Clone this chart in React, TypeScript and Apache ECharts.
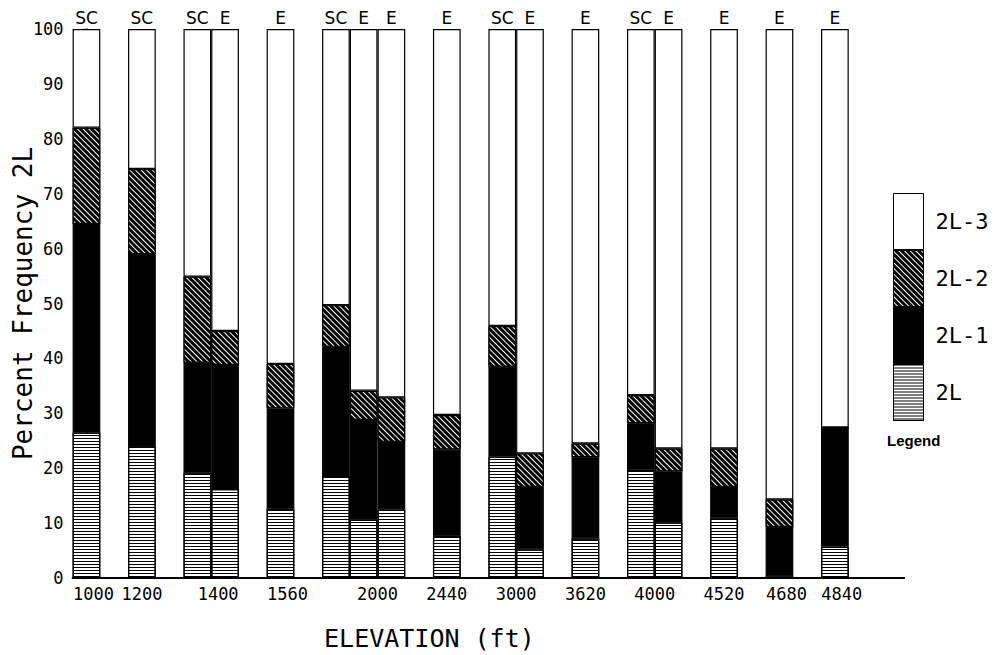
import React, { useEffect, useRef } from "react";
import * as echarts from "echarts";

// ---------- data ----------
const seriesNames = ["2L", "2L-1", "2L-2", "2L-3"];
const legendOrder = ["2L-3", "2L-2", "2L-1", "2L"];
const barElevation = ["1000", "1200", "1400", "1400", "1560", "2000", "2000", "2000", "2440", "3000", "3000", "3620", "4000", "4000", "4520", "4680", "4840"];
const barSite = ["SC", "SC", "SC", "E", "E", "SC", "E", "E", "E", "SC", "E", "E", "SC", "E", "E", "E", "E"];
const pct2L = [26.5, 24, 19.2, 16.2, 12.6, 18.6, 10.6, 12.5, 7.7, 22.1, 5.2, 7.2, 19.7, 10.1, 11, 0.3, 5.7];
const pct2L1 = [38, 35, 20, 22.6, 18.3, 23.5, 18.2, 12.3, 15.7, 16.4, 11.4, 14.8, 8.5, 9.3, 5.6, 9, 21.7];
const pct2L2 = [17.5, 15.5, 15.7, 6.2, 8.1, 7.6, 5.3, 8.1, 6.3, 7.4, 6.1, 2.5, 5.1, 4.2, 7, 5, 0];
const pct2L3 = [18, 25.5, 45.1, 55, 61, 50.3, 65.9, 67.1, 70.3, 54.1, 77.3, 75.5, 66.7, 76.4, 76.4, 85.7, 72.6];
const elevationTicks = ["1000", "1200", "1400", "1560", "2000", "2440", "3000", "3620", "4000", "4520", "4680", "4840"];

// ---------- layout ----------
const SLOT_COUNT = 30;
const barSlot = [0, 2, 4, 5, 7, 9, 10, 11, 13, 15, 16, 18, 20, 21, 23, 25, 27];
const tickSlot = [0.25, 2, 4.75, 7.25, 10.5, 13, 15.5, 18, 20.5, 23, 25.25, 27.25];

const MONO = "DejaVu Sans Mono";
const SANS = "DejaVu Sans";

function toSlots(values: number[]): (number | string)[] {
  const out: (number | string)[] = new Array(SLOT_COUNT).fill("-");
  values.forEach((v, i) => {
    out[barSlot[i]] = v;
  });
  return out;
}

const slotCategories: string[] = Array.from({ length: SLOT_COUNT }, (_, s) => {
  const i = barSlot.indexOf(s);
  return i >= 0 ? `${barElevation[i]} ${barSite[i]}` : `gap${s}`;
});

const siteForSlot = (s: number) => {
  const i = barSlot.indexOf(s);
  return i >= 0 ? barSite[i] : "";
};

export default function App() {
  const ref = useRef<HTMLDivElement>(null);

  useEffect(() => {
    if (!ref.current) return;
    const chart = echarts.init(ref.current, undefined, { renderer: "svg" });

    const hLines = {
      symbol: "rect",
      symbolSize: 1,
      color: "#000",
      dashArrayX: [1, 0],
      dashArrayY: [1, 2],
      rotation: 0,
    };
    const hatch = {
      symbol: "rect",
      symbolSize: 1,
      color: "#fff",
      dashArrayX: [1, 0],
      dashArrayY: [1, 3],
      rotation: Math.PI / 4,
    };

    const baseItem = { borderColor: "#000", borderWidth: 1.2 };
    const values = [pct2L, pct2L1, pct2L2, pct2L3];
    const itemStyles = [
      { ...baseItem, color: "#fff", decal: hLines },
      { ...baseItem, color: "#000" },
      { ...baseItem, color: "#000", decal: hatch },
      { ...baseItem, color: "#fff" },
    ];

    const series = seriesNames.map((name, k) => ({
      name,
      type: "bar",
      stack: "total",
      xAxisIndex: 0,
      yAxisIndex: 0,
      barCategoryGap: "0%",
      data: toSlots(values[k]),
      itemStyle: itemStyles[k],
      emphasis: { disabled: true },
      label:
        k === 3
          ? {
              show: true,
              position: "top",
              distance: 3,
              fontFamily: SANS,
              fontSize: 17,
              color: "#000",
              formatter: (p: any) => siteForSlot(p.dataIndex),
            }
          : { show: false },
    }));

    chart.setOption({
      animation: false,
      backgroundColor: "#fff",
      grid: {
        left: 72.6,
        right: 98.8,
        top: 29,
        bottom: 77,
        containLabel: false,
        outerBoundsMode: "none",
      },
      legend: {
        data: legendOrder,
        orient: "vertical",
        left: 893,
        top: 193,
        itemWidth: 30,
        itemHeight: 56,
        itemGap: 0,
        icon: "rect",
        padding: 0,
        selectedMode: false,
        itemStyle: { borderColor: "#000", borderWidth: 1 },
        textStyle: { fontFamily: MONO, fontSize: 22, color: "#000", padding: [0, 0, 0, 7] },
      },
      xAxis: [
        {
          type: "category",
          data: slotCategories,
          position: "bottom",
          axisLine: { show: true, lineStyle: { color: "#000", width: 2 } },
          axisTick: { show: false },
          axisLabel: { show: false },
          splitLine: { show: false },
          name: "ELEVATION (ft)",
          nameLocation: "middle",
          nameGap: 48,
          nameMoveOverlap: false,
          nameTextStyle: {
            fontFamily: MONO,
            fontSize: 25,
            color: "#000",
            padding: [0, 118, 0, 0],
          },
        },
        {
          type: "value",
          position: "bottom",
          min: -0.5,
          max: SLOT_COUNT - 0.5,
          interval: 0.25,
          axisLine: { show: false },
          axisTick: { show: false },
          splitLine: { show: false },
          axisLabel: {
            show: true,
            margin: 7,
            fontFamily: MONO,
            fontSize: 17,
            color: "#000",
            formatter: (v: number) => {
              const k = tickSlot.findIndex((s) => Math.abs(s - v) < 1e-6);
              return k >= 0 ? elevationTicks[k] : "";
            },
          },
        },
      ],
      yAxis: {
        type: "value",
        min: 0,
        max: 100,
        interval: 10,
        offset: 2,
        axisLine: { show: true, lineStyle: { color: "#000", width: 1.5 } },
        axisTick: { show: true, length: 5, lineStyle: { color: "#000", width: 1.2 } },
        axisLabel: { margin: 7, fontFamily: MONO, fontSize: 17, color: "#000" },
        splitLine: { show: false },
        name: "Percent Frequency 2L",
        nameLocation: "middle",
        nameGap: 35,
        nameMoveOverlap: false,
        nameTextStyle: { fontFamily: MONO, fontSize: 26, color: "#000" },
      },
      graphic: [
        {
          type: "text",
          left: 887,
          top: 433,
          style: {
            text: "Legend",
            fontFamily: "Liberation Sans",
            fontWeight: "bold",
            fontSize: 15,
            fill: "#000",
          },
        },
      ],
      series,
    });

    return () => chart.dispose();
  }, []);

  return (
    <div
      ref={ref}
      style={{ position: "fixed", left: 0, top: 0, width: 1003, height: 655, background: "#fff" }}
    />
  );
}
